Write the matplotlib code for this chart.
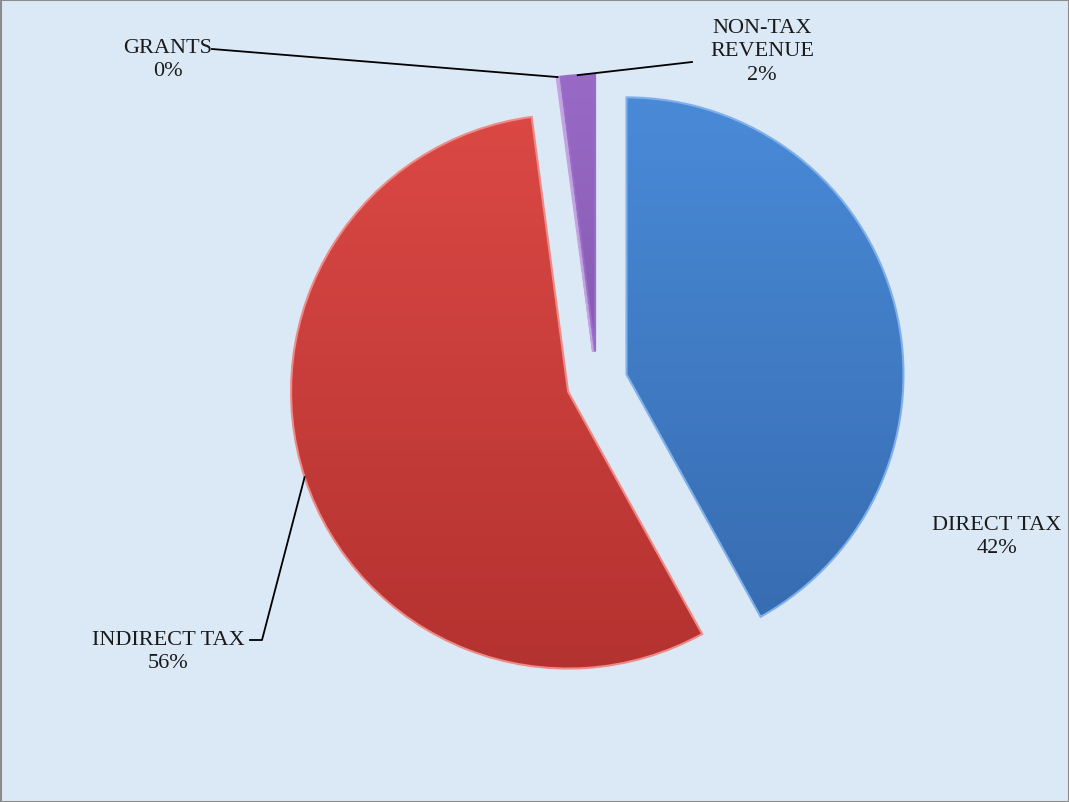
import numpy as np
import matplotlib.pyplot as plt
from matplotlib.colors import LinearSegmentedColormap

# Revenue shares (percent)
categories = ['DIRECT TAX', 'INDIRECT TAX', 'GRANTS', 'NON-TAX\nREVENUE']
shares = [42.0, 56.0, 0.1, 2.0]
pct_labels = ['42%', '56%', '0%', '2%']

top_colors = ['#4b8ddb', '#e04b47', '#9a6cc8', '#9a6cc8']
bottom_colors = ['#3467aa', '#b0302e', '#6f4596', '#6f4596']
edge_colors = ['#7fb0ea', '#ee8a86', '#c3a3e0', '#9a6cc8']

W, H = 1069, 803
fig = plt.figure(figsize=(W / 100, H / 100), dpi=100)
fig.patch.set_facecolor('#dbe8f5')
ax = fig.add_axes([0, 0, 1, 1])

cx, cy, r = 597, H - 383, 277
wedges, _ = ax.pie(shares, startangle=90, counterclock=False, radius=r,
                   center=(cx, cy), explode=[0.11 * r] * 4,
                   colors=top_colors, frame=True,
                   wedgeprops=dict(linewidth=1.5))
ax.set_xlim(0, W)
ax.set_ylim(0, H)
ax.set_aspect('equal')
ax.axis('off')

# vertical gradient fill clipped to each wedge
grad = np.linspace(0, 1, 256).reshape(-1, 1)
for w, c1, c2, ec in zip(wedges, top_colors, bottom_colors, edge_colors):
    w.set_edgecolor(ec)
    cmap = LinearSegmentedColormap.from_list('g', [c2, c1])
    im = ax.imshow(grad, cmap=cmap, origin='lower', aspect='auto',
                   extent=[cx - r - 60, cx + r + 60, cy - r - 60, cy + r + 60],
                   zorder=w.get_zorder() + 0.1)
    im.set_clip_path(w)
    w.set_facecolor('none')
    w.set_zorder(w.get_zorder() + 0.2)
ax.set_xlim(0, W)
ax.set_ylim(0, H)


def wedge_point(w, deg, frac=1.0):
    x0, y0 = w.center
    a = np.deg2rad(deg)
    return x0 + w.r * frac * np.cos(a), y0 + w.r * frac * np.sin(a)


font = dict(family=['Liberation Serif', 'DejaVu Serif'], fontsize=16, color='#1a1a1a',
            ha='center', va='center', linespacing=1.35)

# DIRECT TAX (no leader)
ax.text(997, H - 537, categories[0] + '\n' + pct_labels[0], **font)

# INDIRECT TAX
ax.text(168, H - 652, categories[1] + '\n' + pct_labels[1], **font)
w = wedges[1]
px, py = wedge_point(w, 198)
ax.plot([250, 262, px], [H - 641, H - 641, py], color='black', lw=1.3, zorder=5)

# GRANTS
ax.text(168, H - 60, categories[2] + '\n' + pct_labels[2], **font)
w = wedges[2]
gx, gy = wedge_point(w, (w.theta1 + w.theta2) / 2)
ax.plot([212, gx], [H - 50, gy], color='black', lw=1.3, zorder=5)

# NON-TAX REVENUE
ax.text(762, H - 52, categories[3] + '\n' + pct_labels[3], **font)
w = wedges[3]
nx, ny = wedge_point(w, (w.theta1 + w.theta2) / 2)
ax.plot([nx, 692], [ny, H - 63], color='black', lw=1.3, zorder=5)

# frame border
ax.plot([0.5, W - 0.5, W - 0.5, 0.5, 0.5], [0.5, 0.5, H - 0.5, H - 0.5, 0.5],
        color='#8c8c8c', lw=1.5, zorder=10)

fig.savefig('out.png', dpi=100, facecolor=fig.get_facecolor())
